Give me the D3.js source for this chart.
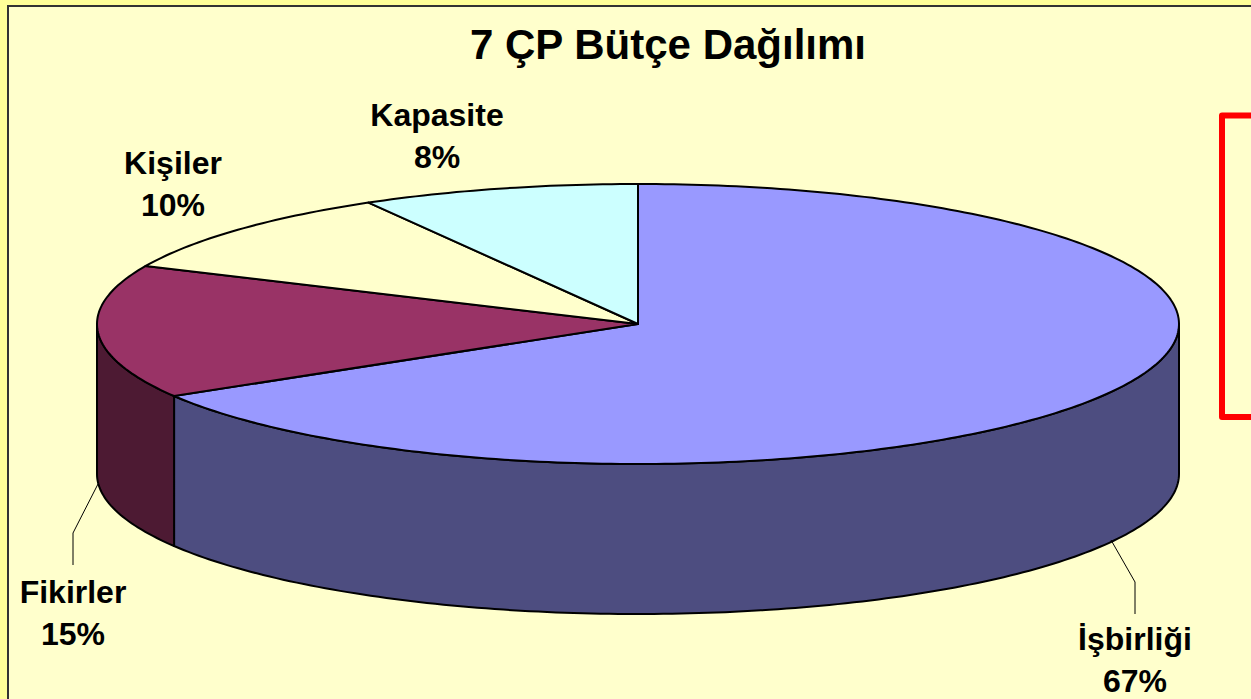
<!DOCTYPE html>
<html>
<head>
<meta charset="utf-8">
<script src="https://cdn.jsdelivr.net/npm/d3@7"></script>
<style>
  html, body { margin: 0; padding: 0; background: #ffff99; overflow: hidden; }
  text { font-family: "Liberation Sans", Arial, sans-serif; font-weight: bold; fill: #000; }
</style>
</head>
<body>
<div class="canva"></div>
<script>
const titleText = "7 ÇP Bütçe Dağılımı";
const categories = ["İşbirliği", "Fikirler", "Kişiler", "Kapasite"];
const percentLabels = ["67%", "15%", "10%", "8%"];
// wedge sizes, the printed labels are rounded differently
const shares = [66.4, 15.4, 9.9, 8.3];
const topColors = ["#9999ff", "#993366", "#ffffcc", "#ccffff"];
const sideColors = ["#4d4d80", "#4d1a33", "#808066", "#668080"];

const width = 1251, height = 699;
const cx = 638, cy = 324, rx = 541, ry = 140, depth = 150;

// label anchor for each slice, in the same order as categories
const labelPos = [
  {x: 1135, y: 650},
  {x: 73, y: 603},
  {x: 173, y: 174},
  {x: 437, y: 126}
];

const svg = d3.select(".canva").append("svg")
  .attr("width", width)
  .attr("height", height)
  .style("display", "block");

// panel
svg.append("rect")
  .attr("x", 8).attr("y", 6)
  .attr("width", width + 20).attr("height", height + 20)
  .attr("fill", "#ffffcc")
  .attr("stroke", "#333333")
  .attr("stroke-width", 2);

// red frame, runs off the right edge
svg.append("rect")
  .attr("x", 1222).attr("y", 115.5)
  .attr("width", 100).attr("height", 301.5)
  .attr("fill", "none")
  .attr("stroke", "#ff0000")
  .attr("stroke-width", 6)
  .attr("stroke-linejoin", "round");

svg.append("text")
  .attr("x", 668).attr("y", 59)
  .attr("text-anchor", "middle")
  .style("font-size", "42px")
  .text(titleText);

const pie = d3.pie().sort(null)(shares);

// angle measured clockwise from 12 o'clock, flattened onto the ellipse
const ex = a => cx + rx * Math.sin(a);
const ey = a => cy - ry * Math.cos(a);
const line = d3.line();

function arcPoints(a0, a1, dy) {
  const n = Math.max(2, Math.ceil(Math.abs(a1 - a0) * 60));
  return d3.range(n + 1).map(i => {
    const a = a0 + (a1 - a0) * i / n;
    return [ex(a), ey(a) + dy];
  });
}

// front walls, only the part between 3 and 9 o'clock shows
const wallStart = Math.PI / 2, wallEnd = Math.PI * 3 / 2;
svg.append("g").selectAll("path")
  .data(pie.filter(d => d.startAngle < wallEnd && d.endAngle > wallStart))
  .join("path")
  .attr("d", d => {
    const a0 = Math.max(d.startAngle, wallStart), a1 = Math.min(d.endAngle, wallEnd);
    return line(arcPoints(a0, a1, 0).concat(arcPoints(a1, a0, depth))) + "Z";
  })
  .attr("fill", d => sideColors[d.index])
  .attr("stroke", "#000")
  .attr("stroke-width", 2)
  .attr("stroke-linejoin", "round");

// top face
svg.append("g").selectAll("path")
  .data(pie)
  .join("path")
  .attr("d", d => line([[cx, cy]].concat(arcPoints(d.startAngle, d.endAngle, 0))) + "Z")
  .attr("fill", d => topColors[d.index])
  .attr("stroke", "#000")
  .attr("stroke-width", 2)
  .attr("stroke-linejoin", "round");

// leader lines for the two lower labels
const leaders = [
  [[1111, 540], [1135, 582], [1135, 614]],
  [[98, 484], [73, 533], [73, 565]]
];
svg.append("g").selectAll("path")
  .data(leaders)
  .join("path")
  .attr("d", d => line(d))
  .attr("fill", "none")
  .attr("stroke", "#000")
  .attr("stroke-width", 1);

const labels = svg.append("g").selectAll("text")
  .data(categories)
  .join("text")
  .attr("text-anchor", "middle")
  .style("font-size", "32px");
labels.append("tspan")
  .attr("x", (d, i) => labelPos[i].x)
  .attr("y", (d, i) => labelPos[i].y)
  .text(d => d);
labels.append("tspan")
  .attr("x", (d, i) => labelPos[i].x)
  .attr("y", (d, i) => labelPos[i].y + 42)
  .text((d, i) => percentLabels[i]);
</script>
</body>
</html>
